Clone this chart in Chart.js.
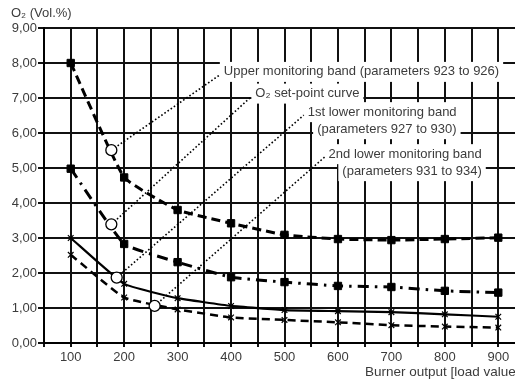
<!DOCTYPE html>
<html>
<head>
<meta charset="utf-8">
<script src="https://cdn.jsdelivr.net/npm/chart.js@4/dist/chart.umd.min.js"></script>
<style>
  html, body { margin: 0; padding: 0; background: #fff; overflow: hidden; }
  #wrap { width: 540px; height: 380px; }
</style>
</head>
<body>
<div id="wrap"><canvas id="chart" width="540" height="380"></canvas></div>
<script>
// burner load values and O2 curves (Vol.%)
const loads = [100, 200, 300, 400, 500, 600, 700, 800, 900];
const upperBand = [8.0, 4.73, 3.8, 3.42, 3.09, 2.97, 2.94, 2.97, 3.01];
const setPoint = [4.98, 2.83, 2.31, 1.88, 1.74, 1.63, 1.6, 1.49, 1.44];
const lowerBand1 = [3.0, 1.69, 1.28, 1.06, 0.94, 0.91, 0.88, 0.82, 0.75];
const lowerBand2 = [2.52, 1.3, 0.96, 0.73, 0.66, 0.59, 0.51, 0.47, 0.44];

// callout circles on the curves and the ends of their leader lines
const markerLoads = [176, 176, 186, 257];
const markerO2 = [5.51, 3.39, 1.87, 1.06];
const labelLoads = [379, 438, 536, 575];
const labelO2 = [7.66, 7.04, 6.51, 5.31];
const labelTexts = [
  ["Upper monitoring band (parameters 923 to 926)"],
  ["O\u2082 set-point curve"],
  ["1st lower monitoring band", "(parameters 927 to 930)"],
  ["2nd lower monitoring band", "(parameters 931 to 934)"]
];

const yTitle = "O\u2082 (Vol.%)";
const xTitle = "Burner output [load value]";

const textColor = "#3c3c3c";
const fontFamily = "'Liberation Sans', Arial, sans-serif";
const pts = arr => arr.map((v, i) => ({ x: loads[i], y: v }));

const leaders = markerLoads.map((x, i) => ({
  type: "line",
  data: [{ x: x, y: markerO2[i] }, { x: labelLoads[i], y: labelO2[i] }],
  borderColor: "#000",
  borderWidth: 1.6,
  borderDash: [1.6, 2.2],
  pointRadius: 0,
  tension: 0,
  order: 5
}));

const calloutPlugin = {
  id: "callouts",
  beforeDatasetsDraw(chart) {
    const { ctx, scales: { x, y } } = chart;
    ctx.save();
    ctx.font = "13px " + fontFamily;
    ctx.fillStyle = "#fff";
    labelTexts.forEach((lines, i) => {
      const px = x.getPixelForValue(labelLoads[i]) + 4;
      const py = y.getPixelForValue(labelO2[i]) - 3;
      const w0 = ctx.measureText(lines[0]).width;
      lines.forEach((t, j) => {
        const w = ctx.measureText(t).width;
        const left = j === 0 ? px : px + w0 - w;
        ctx.fillRect(left - 4, py + j * 17 - 10, w + 8, 20);
      });
    });
    ctx.restore();
  },
  afterDatasetsDraw(chart) {
    const { ctx, scales: { x, y } } = chart;
    ctx.save();
    ctx.font = "13px " + fontFamily;
    ctx.fillStyle = textColor;
    ctx.textBaseline = "middle";
    labelTexts.forEach((lines, i) => {
      const px = x.getPixelForValue(labelLoads[i]) + 4;
      const py = y.getPixelForValue(labelO2[i]) - 3;
      const w0 = ctx.measureText(lines[0]).width;
      lines.forEach((t, j) => {
        if (j === 0) {
          ctx.textAlign = "left";
          ctx.fillText(t, px, py);
        } else {
          ctx.textAlign = "right";
          ctx.fillText(t, px + w0, py + j * 17);
        }
      });
    });
    // axis titles
    ctx.textAlign = "left";
    ctx.font = "13px " + fontFamily;
    ctx.fillText(yTitle, 11, 13);
    ctx.font = "13.5px " + fontFamily;
    ctx.fillText(xTitle, 365, 372);
    ctx.restore();
  }
};

const curve = (values, extra) => Object.assign({
  data: pts(values),
  borderColor: "#000",
  backgroundColor: "#000",
  tension: 0.12,
  order: 2
}, extra);

new Chart(document.getElementById("chart"), {
  type: "line",
  data: {
    datasets: [
      curve(upperBand, { borderWidth: 3, borderDash: [9, 5], pointStyle: "rect", pointRadius: 5.2, pointBorderWidth: 1 }),
      curve(setPoint, { borderWidth: 3, borderDash: [11, 6, 2.5, 6], pointStyle: "rect", pointRadius: 5.2, pointBorderWidth: 1 }),
      curve(lowerBand1, { borderWidth: 2.2, pointStyle: "crossRot", pointRadius: 4, pointBorderWidth: 1.2 }),
      curve(lowerBand2, { borderWidth: 2.5, borderDash: [8, 5], pointStyle: "crossRot", pointRadius: 4, pointBorderWidth: 1.2 }),
      ...leaders,
      {
        type: "scatter",
        data: markerLoads.map((x, i) => ({ x: x, y: markerO2[i] })),
        pointStyle: "circle",
        pointRadius: 5.5,
        pointBorderWidth: 1.3,
        borderColor: "#000",
        backgroundColor: "#fff",
        order: 0
      }
    ]
  },
  options: {
    responsive: false,
    animation: false,
    devicePixelRatio: 1,
    layout: { padding: { top: 28, right: 15, left: 0, bottom: 0 } },
    plugins: { legend: { display: false }, tooltip: { enabled: false } },
    scales: {
      x: {
        type: "linear",
        min: 50,
        max: 950,
        afterFit: s => { s.height = 37; },
        grid: { color: "#111", lineWidth: 2, tickLength: 4 },
        border: { color: "#000", width: 2 },
        ticks: {
          stepSize: 50,
          autoSkip: false,
          maxRotation: 0,
          padding: 3,
          color: textColor,
          font: { family: fontFamily, size: 13 },
          callback: v => (v % 100 === 0 && v >= 100 && v <= 900) ? String(v) : ""
        }
      },
      y: {
        min: 0,
        max: 9,
        afterFit: s => { s.width = 44; },
        grid: { color: "#111", lineWidth: 2, tickLength: 6 },
        border: { color: "#000", width: 2 },
        ticks: {
          stepSize: 1,
          padding: 1,
          color: textColor,
          font: { family: fontFamily, size: 13 },
          callback: v => v.toFixed(2).replace(".", ",")
        }
      }
    }
  },
  plugins: [calloutPlugin]
});
</script>
</body>
</html>
